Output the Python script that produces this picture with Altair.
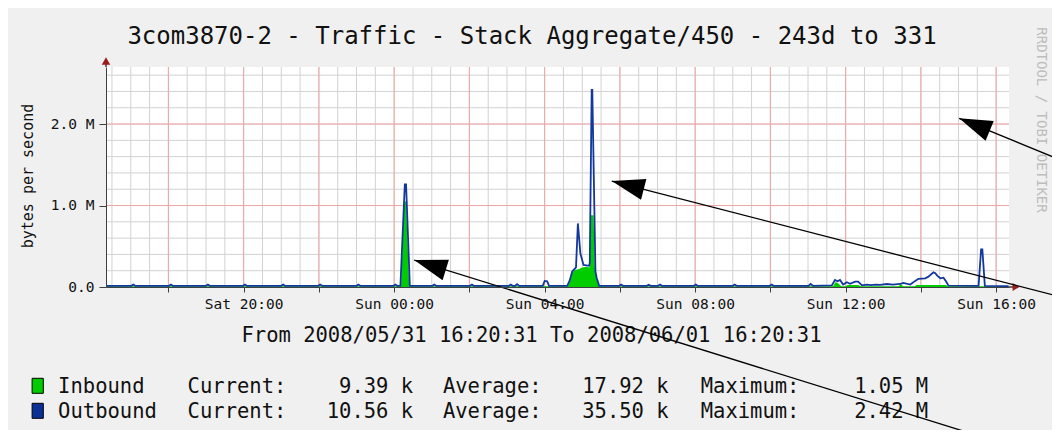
import math
import altair as alt
import numpy as np
import pandas as pd

# ------------------------------------------------------------------ data
# times are "Day HH:MM" (Sat 2008/05/31, Sun 2008/06/01); values in M bytes/s
out_t = ["Sat 16:21",
         "Sat 17:01", "Sat 17:04", "Sat 17:07", "Sat 18:01", "Sat 18:04", "Sat 18:07",
         "Sat 19:00", "Sat 19:03", "Sat 19:06", "Sat 19:59", "Sat 20:02", "Sat 20:05",
         "Sat 21:00", "Sat 21:03", "Sat 21:06", "Sat 21:59", "Sat 22:02", "Sat 22:05",
         "Sat 23:00", "Sat 23:03", "Sat 23:06", "Sat 23:59", "Sun 00:02", "Sun 00:05",
         "Sun 00:10", "Sun 00:17", "Sun 00:19", "Sun 00:25",
         "Sun 01:01", "Sun 01:04", "Sun 01:07", "Sun 02:01", "Sun 02:04", "Sun 02:07",
         "Sun 03:03", "Sun 03:06", "Sun 03:09", "Sun 03:13", "Sun 03:16", "Sun 03:19",
         "Sun 03:57", "Sun 04:00", "Sun 04:04", "Sun 04:07",
         "Sun 04:36", "Sun 04:40", "Sun 04:44", "Sun 04:50", "Sun 04:53", "Sun 04:57",
         "Sun 05:02", "Sun 05:11", "Sun 05:12", "Sun 05:15", "Sun 05:16", "Sun 05:21",
         "Sun 05:23", "Sun 05:27",
         "Sun 05:59", "Sun 06:02", "Sun 06:05", "Sun 06:43", "Sun 06:46", "Sun 06:49",
         "Sun 07:01", "Sun 07:04", "Sun 07:07", "Sun 07:58", "Sun 08:01", "Sun 08:04",
         "Sun 09:00", "Sun 09:03", "Sun 09:06", "Sun 09:59", "Sun 10:02", "Sun 10:05",
         "Sun 11:01", "Sun 11:04", "Sun 11:08",
         "Sun 11:38", "Sun 11:43", "Sun 11:47", "Sun 11:51", "Sun 11:56", "Sun 12:02",
         "Sun 12:07", "Sun 12:15", "Sun 12:20", "Sun 12:26", "Sun 12:34", "Sun 12:40",
         "Sun 12:48", "Sun 12:55", "Sun 13:06", "Sun 13:15", "Sun 13:27", "Sun 13:32",
         "Sun 13:43", "Sun 13:51", "Sun 13:56", "Sun 14:07", "Sun 14:12", "Sun 14:20",
         "Sun 14:23", "Sun 14:26", "Sun 14:31", "Sun 14:36", "Sun 14:40", "Sun 14:44",
         "Sun 15:32", "Sun 15:36", "Sun 15:38", "Sun 15:42",
         "Sun 16:20"]
out_v = [0.015,
         0.015, 0.030, 0.015, 0.015, 0.030, 0.015,
         0.015, 0.030, 0.015, 0.015, 0.030, 0.015,
         0.015, 0.030, 0.015, 0.015, 0.030, 0.015,
         0.015, 0.030, 0.015, 0.015, 0.030, 0.015,
         0.015, 1.26, 1.26, 0.015,
         0.015, 0.030, 0.015, 0.015, 0.030, 0.015,
         0.015, 0.030, 0.015, 0.015, 0.035, 0.015,
         0.015, 0.075, 0.070, 0.015,
         0.015, 0.08, 0.19, 0.24, 0.78, 0.41,
         0.27, 0.26, 0.30, 2.42, 2.42, 0.19,
         0.11, 0.015,
         0.015, 0.030, 0.015, 0.015, 0.028, 0.015,
         0.015, 0.030, 0.015, 0.015, 0.030, 0.015,
         0.015, 0.030, 0.015, 0.015, 0.030, 0.015,
         0.015, 0.037, 0.015,
         0.020, 0.086, 0.070, 0.086, 0.030, 0.058,
         0.040, 0.065, 0.065, 0.020, 0.030, 0.022,
         0.030, 0.025, 0.037, 0.030, 0.037, 0.050,
         0.030, 0.075, 0.100, 0.107, 0.127, 0.180,
         0.170, 0.140, 0.107, 0.115, 0.070, 0.016,
         0.015, 0.46, 0.46, 0.015,
         0.011]

in_t = ["Sat 16:21",
        "Sun 00:11", "Sun 00:16", "Sun 00:19", "Sun 00:24",
        "Sun 04:37", "Sun 04:41", "Sun 04:44", "Sun 04:48", "Sun 04:55", "Sun 05:00",
        "Sun 05:06", "Sun 05:12", "Sun 05:14", "Sun 05:18", "Sun 05:20", "Sun 05:23",
        "Sun 05:26", "Sun 05:28",
        "Sun 11:40", "Sun 11:44", "Sun 11:49", "Sun 11:53",
        "Sun 12:00", "Sun 12:03", "Sun 12:20", "Sun 12:24",
        "Sun 13:25", "Sun 13:28", "Sun 13:31",
        "Sun 13:50", "Sun 13:53", "Sun 14:40", "Sun 14:43",
        "Sun 16:20"]
in_v = [0.008,
        0.008, 1.05, 1.05, 0.008,
        0.008, 0.08, 0.17, 0.21, 0.22, 0.24,
        0.25, 0.24, 0.88, 0.88, 0.24, 0.10,
        0.02, 0.008,
        0.008, 0.06, 0.04, 0.008,
        0.008, 0.025, 0.025, 0.008,
        0.008, 0.04, 0.01,
        0.01, 0.025, 0.025, 0.008,
        0.0094]

legend_names = ["Inbound", "Outbound"]
legend_colors = ["#00CC00", "#0A2F96"]
legend_current = ["9.39 k", "10.56 k"]
legend_average = ["17.92 k", "35.50 k"]
legend_maximum = ["1.05 M", "2.42 M"]

title_text = "3com3870-2 - Traffic - Stack Aggregate/450 - 243d to 331"
y_title = "bytes per second"
range_text = "From 2008/05/31 16:20:31 To 2008/06/01 16:20:31"
side_text = "RRDTOOL / TOBI OETIKER"

x_tick_hours = [18, 20, 22, 24, 26, 28, 30, 32, 34, 36, 38, 40]
x_label_hours = [20, 24, 28, 32, 36, 40]
x_label_text = ["Sat 20:00", "Sun 00:00", "Sun 04:00", "Sun 08:00", "Sun 12:00", "Sun 16:00"]
y_tick_values = [0, 1, 2]
y_tick_labels = ["0.0", "1.0 M", "2.0 M"]

# annotation arrows drawn over the graph (tip -> what they point at)
arrow_tip_t = ["Sun 15:01", "Sun 05:47", "Sun 00:32"]
arrow_tip_v = [2.07, 1.30, 0.33]
arrow_tail_t = ["Sun 17:42", "Sun 17:42", "Sun 15:42"]
arrow_tail_v = [1.56, -0.12, -1.85]

# ------------------------------------------------------------------ helpers
def to_h(s):
    day, hm = s.split()
    hh, mm = hm.split(":")
    return (24 if day == "Sun" else 0) + int(hh) + int(mm) / 60.0

T0 = 16 + 20.5 / 60.0
T1 = T0 + 24
YMAX = 2.7
W, H = 903, 220
PX_H = W / (T1 - T0)
PX_M = H / YMAX
MONO = "DejaVu Sans Mono"
TXT = "#111111"
AXC = "#404040"

out_df = pd.DataFrame({"h": [to_h(t) for t in out_t], "v": out_v})
in_df = pd.DataFrame({"h": [to_h(t) for t in in_t], "v": in_v})

xl = " : ".join(f"datum.value == {h} ? '{t}'" for h, t in zip(x_label_hours, x_label_text)) + " : ''"
yl = " : ".join(f"datum.value == {v} ? '{t}'" for v, t in zip(y_tick_values, y_tick_labels)) + " : ''"

xscale = alt.Scale(domain=[T0, T1], nice=False, zero=False)
yscale = alt.Scale(domain=[0, YMAX], nice=False)
xaxis = alt.Axis(values=x_tick_hours, labelExpr=xl, tickSize=5, labelPadding=5,
                 labelFont=MONO, labelFontSize=14.5, labelColor=TXT, labelFlush=False,
                 labelOverlap=False, domainColor=AXC, tickColor=AXC, grid=False,
                 title="", zindex=1)
yaxis = alt.Axis(values=y_tick_values, labelExpr=yl, tickSize=7, labelPadding=5,
                 labelFont=MONO, labelFontSize=14.5, labelColor=TXT,
                 domainColor=AXC, tickColor=AXC, grid=False, title="", zindex=1)
X = alt.X("h:Q", scale=xscale, axis=xaxis)
Y = alt.Y("v:Q", scale=yscale, axis=yaxis)

layers = []

# grid
minor_x = pd.DataFrame({"h": np.arange(16.5, T1, 0.5)})
major_x = pd.DataFrame({"h": np.arange(18, T1, 2.0)})
minor_y = pd.DataFrame({"v": np.round(np.arange(0.2, YMAX, 0.2), 2)})
major_y = pd.DataFrame({"v": [1.0, 2.0]})
layers.append(alt.Chart(minor_x).mark_rule(color="#d2d2d2", strokeWidth=1).encode(x=X))
layers.append(alt.Chart(minor_y).mark_rule(color="#d2d2d2", strokeWidth=1).encode(y=Y))
layers.append(alt.Chart(major_x).mark_rule(color="#f2a4a4", strokeWidth=1).encode(x=X))
layers.append(alt.Chart(major_y).mark_rule(color="#f2a4a4", strokeWidth=1).encode(y=Y))

# series
layers.append(alt.Chart(in_df).mark_area(color="#00CC00", opacity=1).encode(x=X, y=Y))
layers.append(alt.Chart(out_df).mark_line(color="#12389E", strokeWidth=1.8).encode(x=X, y=Y))

# axis extensions and arrowheads
layers.append(alt.Chart(major_y).mark_rule(color=AXC).encode(
    x=alt.value(0), y=alt.value(-4), y2=alt.value(0)))
layers.append(alt.Chart(major_y).mark_rule(color=AXC).encode(
    x=alt.value(W), x2=alt.value(W + 4), y=alt.value(H)))
layers.append(alt.Chart(pd.DataFrame({"a": [0]})).mark_point(
    shape="triangle-up", filled=True, color="#9B1C1C", size=72, opacity=1).encode(
    x=alt.value(0), y=alt.value(-6)))
layers.append(alt.Chart(pd.DataFrame({"a": [0]})).mark_point(
    shape="triangle-right", filled=True, color="#9B1C1C", size=64, opacity=1).encode(
    x=alt.value(W + 7), y=alt.value(H)))

# texts
def txt(s, x, y, size, align="left", baseline="alphabetic", angle=0, color=TXT):
    return alt.Chart(pd.DataFrame({"t": [s]})).mark_text(
        font=MONO, fontSize=size, align=align, baseline=baseline, angle=angle,
        color=color).encode(x=alt.value(x), y=alt.value(y), text="t:N")

layers.append(txt(title_text, 426, -22.7, 24, align="center"))
layers.append(txt(y_title, -78.5, 109, 15, align="center", baseline="middle", angle=270))
layers.append(txt(side_text, 935, 53, 14, align="center", baseline="middle", angle=90,
                  color="#bdbdbd"))
layers.append(txt(range_text, 425.5, 274.7, 20.5, align="center"))

for i, name in enumerate(legend_names):
    base = 325.7 + 25 * i
    layers.append(alt.Chart(pd.DataFrame({"c": [legend_colors[i]]})).mark_rect(
        stroke="black", strokeWidth=1).encode(
        x=alt.value(-73.9), x2=alt.value(-62.7),
        y=alt.value(base - 14.4), y2=alt.value(base + 0.6),
        color=alt.Color("c:N", scale=None)))
    layers.append(txt(name, -47.9, base, 20.5))
    layers.append(txt("Current:", 81.6, base, 20.5))
    layers.append(txt(legend_current[i], 307.1, base, 20.5, align="right"))
    layers.append(txt("Average:", 336.9, base, 20.5))
    layers.append(txt(legend_average[i], 562.6, base, 20.5, align="right"))
    layers.append(txt("Maximum:", 594.7, base, 20.5))
    layers.append(txt(legend_maximum[i], 822.2, base, 20.5, align="right"))

# annotation arrows
tip_h = [to_h(t) for t in arrow_tip_t]
tail_h = [to_h(t) for t in arrow_tail_t]
ang = []
for th, tv, lh, lv in zip(tip_h, arrow_tip_v, tail_h, arrow_tail_v):
    dx = (th - lh) * PX_H
    dy = -(tv - lv) * PX_M
    ang.append(math.degrees(math.atan2(dx, -dy)) % 360)
arrows = pd.DataFrame({"h": tail_h, "v": arrow_tail_v, "h2": tip_h, "v2": arrow_tip_v})
heads = pd.DataFrame({"h": tip_h, "v": arrow_tip_v, "ang": ang})
layers.append(alt.Chart(arrows).mark_rule(color="black", strokeWidth=1.3).encode(
    x=X, y=Y, x2="h2:Q", y2="v2:Q"))
layers.append(alt.Chart(heads).mark_point(
    shape="M0,0L-0.65,2L0.65,2Z", filled=True, color="black", size=1089,
    opacity=1, strokeWidth=0).encode(x=X, y=Y, angle=alt.Angle("ang:Q", scale=None)))

chart = alt.layer(*layers).properties(
    width=W, height=H, background="#f0f0f0",
    padding={"left": 98, "top": 59, "right": 43, "bottom": 143},
    autosize=alt.AutoSizeParams(type="none"),
).configure_view(fill="white", strokeWidth=0)

chart.save("out.html", embed_options={"renderer": "svg", "actions": False})
